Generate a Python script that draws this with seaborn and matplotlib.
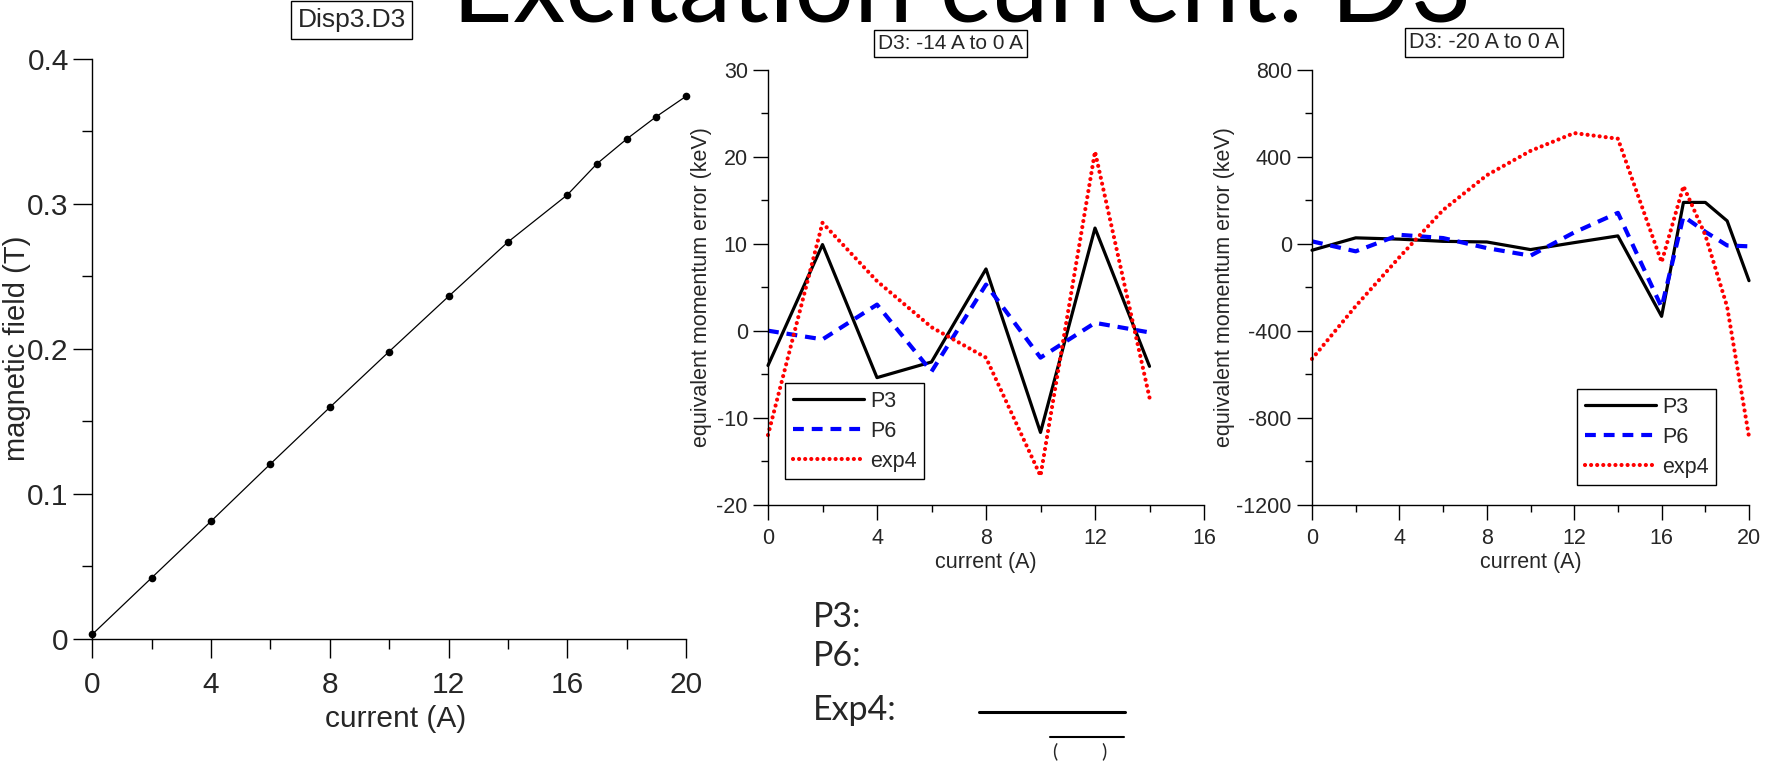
import matplotlib
matplotlib.use("Agg")
import matplotlib.pyplot as plt
import seaborn as sns
import pandas as pd
from matplotlib import font_manager as fm
from matplotlib.lines import Line2D
from matplotlib.ticker import MultipleLocator

# ---------------- data ----------------
field_current = [0, 2, 4, 6, 8, 10, 12, 14, 16, 17, 18, 19, 20]
field_tesla = [0.003, 0.042, 0.081, 0.1205, 0.1595, 0.198, 0.236, 0.2735,
               0.306, 0.3275, 0.3445, 0.360, 0.374]

mid_current = [0, 2, 4, 6, 8, 10, 12, 14]
mid_p3 = [-4.0, 9.9, -5.4, -3.6, 7.1, -11.7, 11.8, -4.1]
mid_p6 = [0.0, -1.0, 3.0, -4.7, 5.3, -3.1, 0.9, -0.2]
mid_exp4 = [-12.0, 12.4, 5.7, 0.4, -3.1, -16.7, 20.6, -7.7]

right_current = [0, 2, 4, 6, 8, 10, 12, 14, 16, 17, 18, 19, 20]
right_p3 = [-30, 27, 21, 11, 8, -27, 5, 36, -334, 190, 190, 105, -170]
right_p6 = [11, -35, 41, 26, -20, -55, 52, 142, -292, 126, 55, -8, -12]
right_exp4 = [-530, -287, -62, 155, 315, 427, 509, 483, -85, 265, 40, -290, -888]

series_names = ["P3", "P6", "exp4"]
main_title = "Excitation current: D3"
panel_titles = ["Disp3.D3", "D3: -14 A to 0 A", "D3: -20 A to 0 A"]
xlabel = "current (A)"
ylabel_left = "magnetic field (T)"
ylabel_err = "equivalent momentum error (keV)"
slide_labels = ["P3:", "P6:", "Exp4:"]

# ---------------- style ----------------
sns.set_style("ticks")
plt.rcParams["font.family"] = ["Liberation Sans", "DejaVu Sans"]
plt.rcParams["axes.unicode_minus"] = False
names = {f.name for f in fm.fontManager.ttflist}
narrow = "Liberation Sans Narrow" in names
left_family = ["Liberation Sans Narrow", "Liberation Sans"] if narrow else ["Liberation Sans"]
left_tick_size = 24 if narrow else 21.5
slide_family = ["Lato", "DejaVu Sans"]

W, H = 1766, 764
fig = plt.figure(figsize=(W / 100, H / 100), dpi=100)


def axes_px(x0, x1, y0, y1):
    return fig.add_axes([x0 / W, 1 - y1 / H, (x1 - x0) / W, (y1 - y0) / H])


ax1 = axes_px(92.4, 686, 58.6, 638.6)
ax2 = axes_px(768, 1204, 69.8, 504.6)
ax3 = axes_px(1312, 1749, 69.8, 504.6)

for ax in (ax1, ax2, ax3):
    for s in ("top", "right"):
        ax.spines[s].set_visible(False)
    for s in ("left", "bottom"):
        ax.spines[s].set_color("black")
        ax.spines[s].set_linewidth(1.0)
    ax.set_facecolor("white")

# ---------------- left panel ----------------
df1 = pd.DataFrame({"current": field_current, "field": field_tesla})
sns.lineplot(data=df1, x="current", y="field", ax=ax1, color="black", lw=0.9,
             marker="o", markersize=5.5, markeredgewidth=0, clip_on=False)
ax1.set_xlim(0, 20)
ax1.set_ylim(0, 0.4)
ax1.xaxis.set_major_locator(MultipleLocator(4))
ax1.xaxis.set_minor_locator(MultipleLocator(2))
ax1.yaxis.set_minor_locator(MultipleLocator(0.05))
ax1.set_yticks([0, 0.1, 0.2, 0.3, 0.4])
ax1.set_yticklabels(["0", "0.1", "0.2", "0.3", "0.4"])
ax1.tick_params(axis="both", which="major", length=14, width=1, color="black")
ax1.tick_params(axis="both", which="minor", length=7, width=1, color="black")
ax1.tick_params(axis="x", which="major", pad=9)
ax1.tick_params(axis="y", which="major", pad=3)
for lab in ax1.get_xticklabels() + ax1.get_yticklabels():
    lab.set_family(left_family)
    lab.set_fontsize(left_tick_size)
ax1.set_xlabel(xlabel, family=left_family, fontsize=left_tick_size)
ax1.set_ylabel(ylabel_left, fontsize=21)
ax1.yaxis.label.set_va("center")
ax1.xaxis.set_label_coords(0.511, -0.115)
ax1.yaxis.set_label_coords(-0.127, 0.5)


# ---------------- error panels ----------------
def error_panel(ax, cur, p3, p6, e4, xmax, xmaj, ylo, yhi, ymaj, legend_xy):
    df = pd.DataFrame({"current": cur, "P3": p3, "P6": p6, "exp4": e4})
    sns.lineplot(data=df, x="current", y="P3", ax=ax, color="black", lw=2.3,
                 label=series_names[0], clip_on=False)
    sns.lineplot(data=df, x="current", y="P6", ax=ax, color="#0000ff", lw=3.0,
                 linestyle=(0, (2.6, 1.9)), label=series_names[1], clip_on=False)
    sns.lineplot(data=df, x="current", y="exp4", ax=ax, color="#ff0000", lw=3.0,
                 linestyle=(0, (0.01, 1.45)), dash_capstyle="round",
                 label=series_names[2], clip_on=False)
    ax.set_xlim(0, xmax)
    ax.set_ylim(ylo, yhi)
    ax.xaxis.set_major_locator(MultipleLocator(xmaj))
    ax.xaxis.set_minor_locator(MultipleLocator(xmaj / 2))
    ax.yaxis.set_major_locator(MultipleLocator(ymaj))
    ax.yaxis.set_minor_locator(MultipleLocator(ymaj / 2))
    ax.tick_params(axis="both", which="major", length=10.5, width=1, color="black",
                   labelsize=15.5)
    ax.tick_params(axis="both", which="minor", length=5, width=1, color="black")
    ax.tick_params(axis="x", which="major", pad=6)
    ax.tick_params(axis="y", which="major", pad=4)
    ax.set_xlabel(xlabel, fontsize=15.5)
    ax.set_ylabel(ylabel_err, fontsize=15.5)
    ax.yaxis.label.set_va("center")
    ax.xaxis.set_label_coords(0.5, -0.109)
    leg = ax.legend(loc="upper left", bbox_to_anchor=(legend_xy[0] / W, 1 - legend_xy[1] / H),
                    bbox_transform=fig.transFigure, frameon=True, fancybox=False,
                    fontsize=15.5, handlelength=3.3, handletextpad=0.3,
                    labelspacing=0.42, borderpad=0.35, borderaxespad=0)
    fr = leg.get_frame()
    fr.set_edgecolor("black")
    fr.set_linewidth(1.0)
    fr.set_alpha(1)


error_panel(ax2, mid_current, mid_p3, mid_p6, mid_exp4, 16, 4, -20, 30, 10, (785, 383))
ax2.yaxis.set_label_coords(-0.152, 0.5)
error_panel(ax3, right_current, right_p3, right_p6, right_exp4, 20, 4, -1200, 800, 400, (1577, 389))
ax3.yaxis.set_label_coords(-0.2, 0.5)

# ---------------- panel titles (boxed) ----------------
box = dict(boxstyle="square,pad=0.25", fc="white", ec="black", lw=1)
fig.text(351.5 / W, 1 - 20 / H, panel_titles[0], ha="center", va="center",
         fontsize=22 if narrow else 19, family=left_family, bbox=box)
fig.text(950.5 / W, 1 - 43.5 / H, panel_titles[1], ha="center", va="center",
         fontsize=15, bbox=dict(boxstyle="square,pad=0.18", fc="white", ec="black", lw=1))
fig.text(1484 / W, 1 - 42.5 / H, panel_titles[2], ha="center", va="center",
         fontsize=15.5, bbox=dict(boxstyle="square,pad=0.18", fc="white", ec="black", lw=1))

# ---------------- big slide title (cut off at top) ----------------
t = fig.text(962 / W, 1 - 22 / H, main_title, ha="center", va="baseline",
             fontsize=80, family=slide_family, color="black")
fig.canvas.draw()
w = t.get_window_extent(renderer=fig.canvas.get_renderer()).width
t.set_fontsize(80 * 1020 / w)

# ---------------- slide annotations ----------------
for lab, yc in zip(slide_labels, [617, 656, 710]):
    fig.text(813 / W, 1 - yc / H, lab, ha="left", va="center", fontsize=24.5,
             family=slide_family)
fig.add_artist(Line2D([979 / W, 1125 / W], [1 - 712 / H, 1 - 712 / H],
                      color="black", lw=2.2, transform=fig.transFigure))
fig.add_artist(Line2D([1050 / W, 1124 / W], [1 - 737 / H, 1 - 737 / H],
                      color="black", lw=1.5, transform=fig.transFigure))
fig.text(1055 / W, 1 - 751 / H, "(", ha="center", va="center", fontsize=14, family=slide_family)
fig.text(1104 / W, 1 - 751 / H, ")", ha="center", va="center", fontsize=14, family=slide_family)

fig.savefig("out.png", dpi=100, facecolor="white")
